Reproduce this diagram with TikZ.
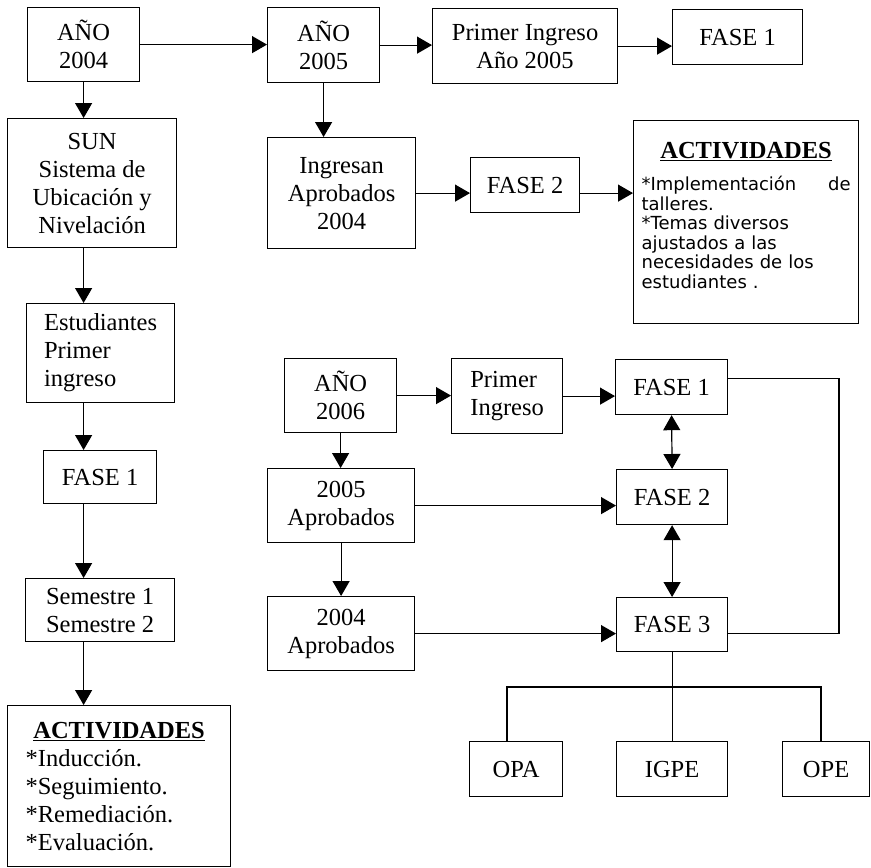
\documentclass[tikz,border=0pt]{standalone}
\usepackage{fontspec}
\setmainfont{Liberation Serif}
\newfontfamily\bodysans{DejaVu Sans}
\usetikzlibrary{arrows.meta}

\begin{document}
\begin{tikzpicture}[
    x=1pt, y=-1pt,
    block/.style={draw, line width=1.2pt, inner sep=0pt, anchor=north west, align=center, font=\fontsize{24.5}{28}\selectfont},
    arrow/.style={-{Triangle[length=15pt,width=17pt]}, line width=1.2pt},
    dblarrow/.style={{Triangle[length=15pt,width=17pt]}-{Triangle[length=15pt,width=17pt]}, line width=1.2pt},
    link/.style={line width=1.2pt}
]
    \useasboundingbox (0,0) rectangle (871,868);

    % Year 2004 column
    \node[block, minimum width=112pt, minimum height=74pt] (a04) at (27,7) {AÑO\\2004};
    \node[block, minimum width=169pt, minimum height=129pt] (sun) at (7,118) {SUN\\Sistema de\\Ubicación y\\Nivelación};
    \node[block, align=left, minimum width=148pt, minimum height=99pt] (est) at (26,303) {Estudiantes\\Primer\\ingreso};
    \node[block, minimum width=113pt, minimum height=53pt] (fase1a) at (43,450) {FASE 1};
    \node[block, minimum width=149pt, minimum height=63pt] (sem) at (25,578) {Semestre 1\\Semestre 2};
    \node[block, align=left, text width=187pt, inner xsep=18pt, minimum width=223pt, minimum height=161pt] (actl) at (7,705)
        {\makebox[187pt]{\bfseries\underline{ACTIVIDADES}}\\{*}Inducción.\\{*}Seguimiento.\\{*}Remediación.\\{*}Evaluación.};

    % Year 2005 group
    \node[block, minimum width=112pt, minimum height=75pt] (a05) at (267,7) {AÑO\\2005};
    \node[block, minimum width=148pt, minimum height=111pt] (ing) at (267,137) {Ingresan\\Aprobados\\2004};
    \node[block, minimum width=185pt, minimum height=75pt] (pr05) at (432,8) {Primer Ingreso\\Año 2005};
    \node[block, minimum width=130pt, minimum height=55pt] (fase1t) at (672,9) {FASE 1};
    \node[block, minimum width=109pt, minimum height=55pt] (fase2t) at (470,157) {FASE 2};
    \node[block, align=left, text width=209pt, inner xsep=8pt, minimum width=225pt, minimum height=203pt,
          font=\bodysans\fontsize{18}{19.5}\selectfont] (actr) at (633,120)
        {\makebox[209pt]{\fontsize{24.5}{28}\rmfamily\bfseries\underline{ACTIVIDADES}}\\[13pt]
         {*}Implementación\hfill de\\talleres.\\{*}Temas diversos\\ajustados a las\\necesidades de los\\estudiantes .\\[-6pt]\mbox{}};

    % Year 2006 group
    \node[block, minimum width=112pt, minimum height=74pt] (a06) at (284,358) {AÑO\\2006};
    \node[block, align=left, minimum width=111pt, minimum height=75pt] (pr06) at (451,358) {Primer\\Ingreso};
    \node[block, minimum width=112pt, minimum height=55pt] (fase1b) at (615,359) {FASE 1};
    \node[block, minimum width=147pt, minimum height=74pt] (ap05) at (267,468) {2005\\Aprobados};
    \node[block, minimum width=111pt, minimum height=55pt] (fase2b) at (616,469) {FASE 2};
    \node[block, minimum width=147pt, minimum height=74pt] (ap04) at (267,596) {2004\\Aprobados};
    \node[block, minimum width=111pt, minimum height=54pt] (fase3b) at (616,597) {FASE 3};
    \node[block, minimum width=93pt, minimum height=55pt] (opa) at (469,741) {OPA};
    \node[block, minimum width=111pt, minimum height=55pt] (igpe) at (616,741) {IGPE};
    \node[block, minimum width=87pt, minimum height=55pt] (ope) at (782,741) {OPE};

    % Helper points
    \coordinate (forkl) at (507,687);
    \coordinate (forkr) at (821,687);
    \coordinate (brk) at (839,0);

    % Connections 2004
    \draw[arrow] (a04.east) -- (a04.east -| a05.west);
    \draw[arrow] (a04.south) -- (a04.south |- sun.north);
    \draw[arrow] (sun.south -| a04) -- (est.north -| a04);
    \draw[arrow] (est.south -| a04) -- (fase1a.north -| a04);
    \draw[arrow] (fase1a.south -| a04) -- (sem.north -| a04);
    \draw[arrow] (sem.south -| a04) -- (actl.north -| a04);

    % Connections 2005
    \draw[arrow] (a05.east) -- (a05.east -| pr05.west);
    \draw[arrow] (pr05.east) -- (pr05.east -| fase1t.west);
    \draw[arrow] (a05.south) -- (a05.south |- ing.north);
    \draw[arrow] (ing.east) -- (ing.east -| fase2t.west);
    \draw[arrow] (ing.east -| fase2t.east) -- (ing.east -| actr.west);

    % Connections 2006
    \draw[arrow] (a06.east) -- (a06.east -| pr06.west);
    \draw[arrow] (pr06.east) -- (pr06.east -| fase1b.west);
    \draw[arrow] (a06.south) -- (a06.south |- ap05.north);
    \draw[arrow] (ap05.south) -- (ap05.south |- ap04.north);
    \draw[arrow] (ap05.east) -- (ap05.east -| fase2b.west);
    \draw[arrow] (ap04.east) -- (ap04.east -| fase3b.west);
    \draw[dblarrow] (fase1b.south) -- (fase2b.north);
    \draw[dblarrow] (fase2b.south) -- (fase3b.north);
    \draw[link] ([yshift=8.5pt]fase1b.east) -- ([yshift=8.5pt]fase1b.east -| brk) -- ([yshift=-9pt]fase3b.east -| brk) -- ([yshift=-9pt]fase3b.east);

    % Branches of FASE 3
    \draw[link] (fase3b.south) -- (igpe.north);
    \draw[link] (opa.north -| forkl) -- (forkl) -- (forkr) -- (ope.north -| forkr);
\end{tikzpicture}
\end{document}
